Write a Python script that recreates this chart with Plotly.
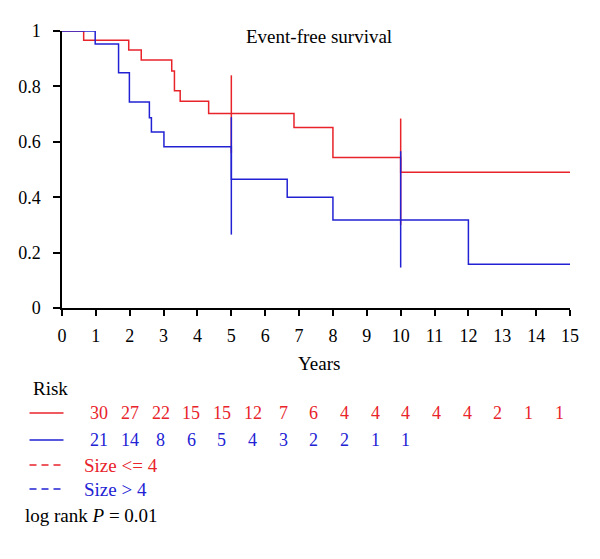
import plotly.graph_objects as go

# ---- data ----
red_times = [0, 0.64, 1.97, 2.34, 3.24, 3.32, 3.49, 4.33, 6.85, 8.0, 10.0, 15]
red_surv = [1, 0.967, 0.931, 0.895, 0.856, 0.784, 0.746, 0.702, 0.652, 0.543, 0.490, 0.490]
blue_times = [0, 0.98, 1.67, 1.99, 2.58, 2.64, 3.01, 5.0, 6.65, 8.0, 12.0, 15]
blue_surv = [1, 0.953, 0.849, 0.744, 0.687, 0.635, 0.582, 0.465, 0.40, 0.318, 0.158, 0.158]

ci_times = [5, 10]
red_ci_low = [0.56, 0.30]
red_ci_high = [0.84, 0.684]
blue_ci_low = [0.265, 0.146]
blue_ci_high = [0.689, 0.566]

risk_red = [30, 27, 22, 15, 15, 12, 7, 6, 4, 4, 4, 4, 4, 2, 1, 1]
risk_blue = [21, 14, 8, 6, 5, 4, 3, 2, 2, 1, 1]

x_ticks = list(range(0, 16))
y_ticks = [0, 0.2, 0.4, 0.6, 0.8, 1]
y_ticklabels = ["0", "0.2", "0.4", "0.6", "0.8", "1"]

RED = "#e8232a"
BLUE = "#2222d4"
FONT = "Liberation Serif"

# ---- layout geometry (pixels) ----
W, H = 600, 559
ML, MR, MT, MB = 62, 30, 31, 251
PW = W - ML - MR
PH = H - MT - MB


def px(xpix):
    return (xpix - ML) / PW


def py(ypix):
    return (H - MB - ypix) / PH


def ci_xy(times, lo, hi):
    xs, ys = [], []
    for t, a, b in zip(times, lo, hi):
        xs += [t, t, None]
        ys += [a, b, None]
    return xs, ys


fig = go.Figure()
fig.add_trace(go.Scatter(x=red_times, y=red_surv, mode="lines", line=dict(color=RED, width=1.5, shape="hv"),
                         cliponaxis=False, showlegend=False))
rx, ry = ci_xy(ci_times, red_ci_low, red_ci_high)
fig.add_trace(go.Scatter(x=rx, y=ry, mode="lines", line=dict(color=RED, width=1.5), cliponaxis=False, showlegend=False))
fig.add_trace(go.Scatter(x=blue_times, y=blue_surv, mode="lines", line=dict(color=BLUE, width=1.5, shape="hv"),
                         cliponaxis=False, showlegend=False))
bx, by = ci_xy(ci_times, blue_ci_low, blue_ci_high)
fig.add_trace(go.Scatter(x=bx, y=by, mode="lines", line=dict(color=BLUE, width=1.5), cliponaxis=False, showlegend=False))

TXT = 19
annotations = []
shapes = []
# title inside plot
annotations.append(dict(text="Event-free survival", x=px(319), y=py(36), xref="paper", yref="paper",
                        showarrow=False, font=dict(family=FONT, size=TXT, color="black"),
                        xanchor="center", yanchor="middle"))
# Years label
annotations.append(dict(text="Years", x=px(319), y=py(363), xref="paper", yref="paper",
                        showarrow=False, font=dict(family=FONT, size=TXT, color="black"),
                        xanchor="center", yanchor="middle"))
# Risk title
annotations.append(dict(text="Risk", x=px(31), y=py(388), xref="paper", yref="paper",
                        showarrow=False, font=dict(family=FONT, size=TXT, color="black"),
                        xanchor="left", yanchor="middle"))

risk_x0, risk_dx = 99.3, 30.65
row_red_y, row_blue_y = 413, 440
for i, v in enumerate(risk_red):
    annotations.append(dict(text=str(v), x=px(risk_x0 + risk_dx * i), y=py(row_red_y), xref="paper", yref="paper",
                            showarrow=False, font=dict(family=FONT, size=18, color=RED),
                            xanchor="center", yanchor="middle"))
for i, v in enumerate(risk_blue):
    annotations.append(dict(text=str(v), x=px(risk_x0 + risk_dx * i), y=py(row_blue_y), xref="paper", yref="paper",
                            showarrow=False, font=dict(family=FONT, size=18, color=BLUE),
                            xanchor="center", yanchor="middle"))

# legend line keys
for yy, col, dash in [(row_red_y, RED, "solid"), (row_blue_y, BLUE, "solid"), (465, RED, "7px,5px"), (489, BLUE, "7px,5px")]:
    shapes.append(dict(type="line", xref="paper", yref="paper", x0=px(29.5), x1=px(63.5), y0=py(yy), y1=py(yy),
                       line=dict(color=col, width=1.5, dash=dash)))

annotations.append(dict(text="Size <= 4", x=px(82), y=py(465), xref="paper", yref="paper",
                        showarrow=False, font=dict(family=FONT, size=TXT, color=RED),
                        xanchor="left", yanchor="middle"))
annotations.append(dict(text="Size > 4", x=px(82), y=py(489), xref="paper", yref="paper",
                        showarrow=False, font=dict(family=FONT, size=TXT, color=BLUE),
                        xanchor="left", yanchor="middle"))
annotations.append(dict(text="log rank <i>P</i> = 0.01", x=px(23), y=py(515), xref="paper", yref="paper",
                        showarrow=False, font=dict(family=FONT, size=TXT, color="black"),
                        xanchor="left", yanchor="middle"))

fig.update_layout(
    width=W, height=H,
    margin=dict(l=ML, r=MR, t=MT, b=MB, pad=0),
    paper_bgcolor="white", plot_bgcolor="white",
    font=dict(family=FONT, size=18, color="black"),
    annotations=annotations, shapes=shapes,
    showlegend=False,
)
fig.update_xaxes(range=[0, 15], tickmode="array", tickvals=x_ticks, ticktext=[str(t) for t in x_ticks],
                 showline=True, linecolor="black", linewidth=1.5, ticks="outside", ticklen=6, tickwidth=1.5,
                 tickcolor="black", showgrid=False, zeroline=False, tickfont=dict(family=FONT, size=18),
                 ticklabelstandoff=5)
fig.update_yaxes(range=[0, 1], tickmode="array", tickvals=y_ticks, ticktext=y_ticklabels,
                 showline=True, linecolor="black", linewidth=1.5, ticks="outside", ticklen=7, tickwidth=1.5,
                 tickcolor="black", showgrid=False, zeroline=False, tickfont=dict(family=FONT, size=18),
                 ticklabelstandoff=9)

fig.write_html("out.html", config={"displayModeBar": False},
               post_script="document.body.style.margin='0';document.body.style.padding='0';")
